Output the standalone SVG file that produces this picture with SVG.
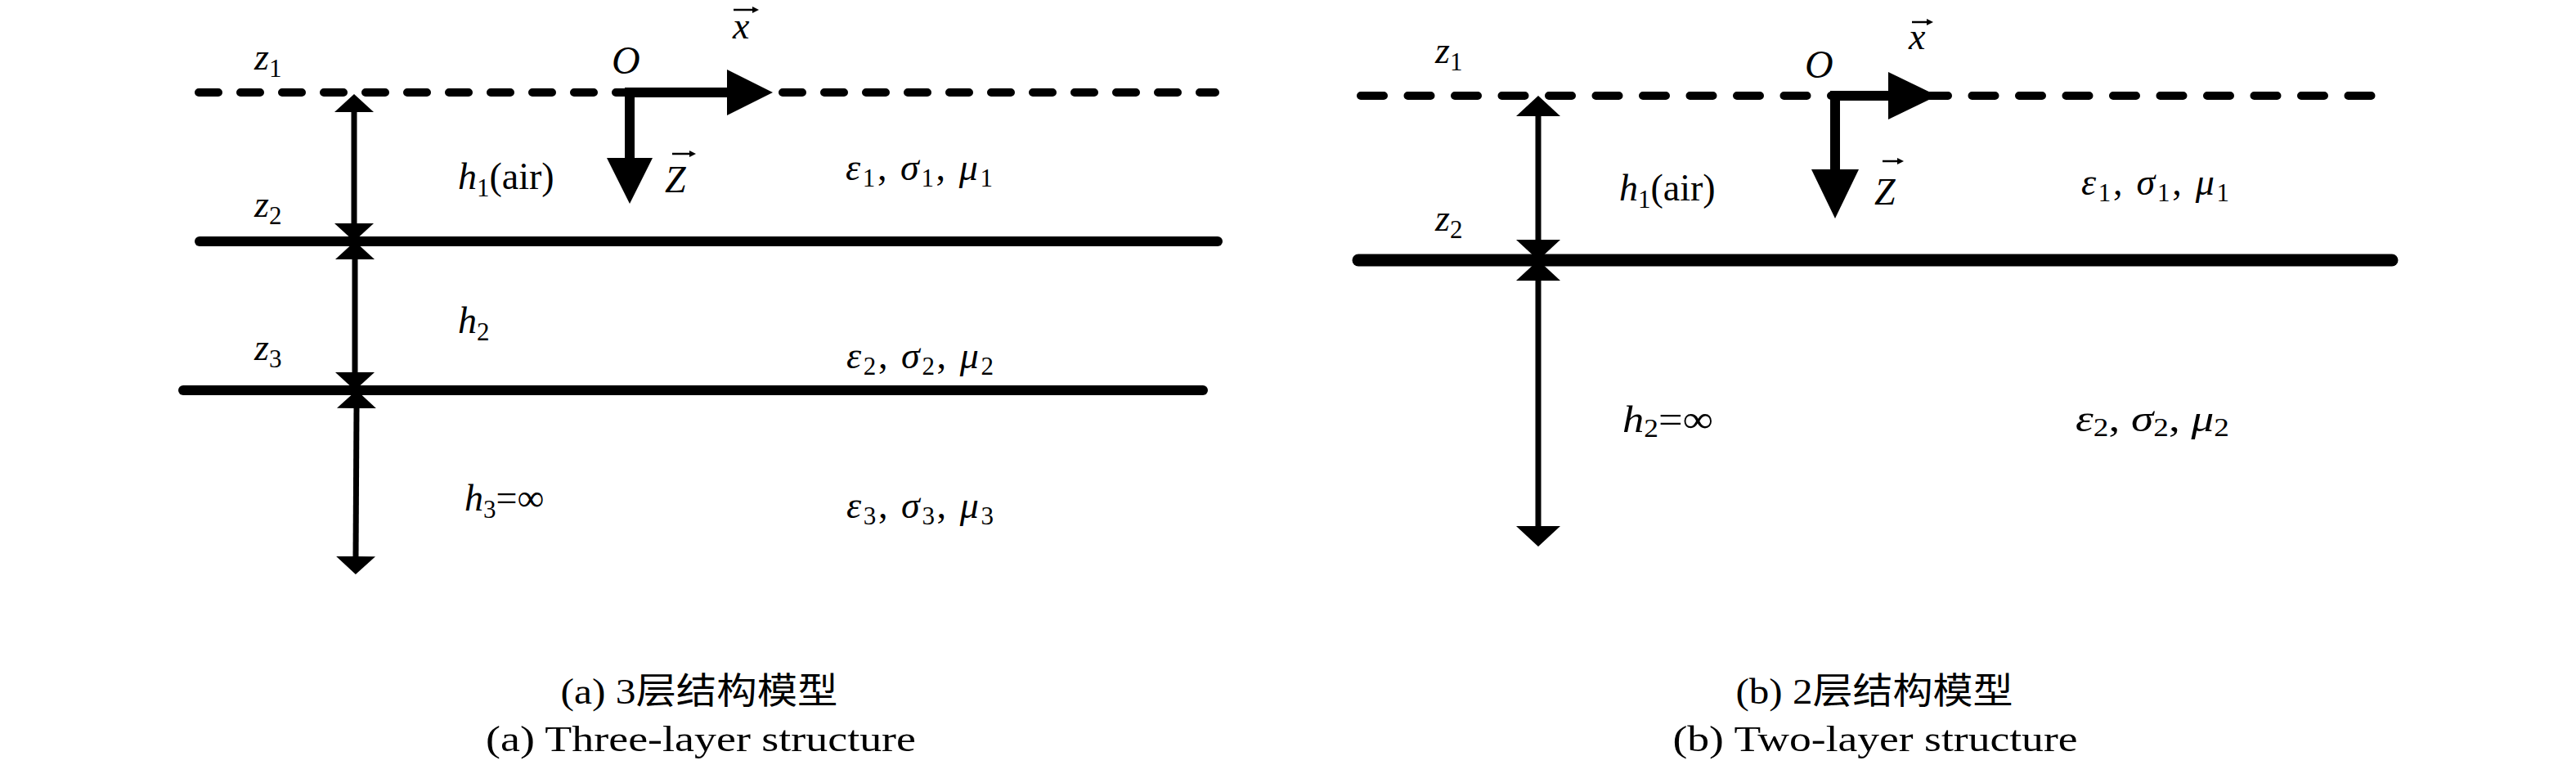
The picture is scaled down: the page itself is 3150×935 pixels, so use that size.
<svg xmlns="http://www.w3.org/2000/svg" width="3150" height="935" viewBox="0 0 3150 935">
<style>
.m { font-family: "Liberation Serif", "DejaVu Serif", serif; font-size: 46px; fill: #000; }
.i { font-style: italic; }
.s { font-size: 31px; }
.big { font-size: 48px; }
.cap { font-family: "Liberation Serif", "Noto Sans CJK SC", serif; font-size: 44px; fill: #000; }
.dash1 { fill: none; stroke: #000; stroke-width: 10; stroke-linecap: round; stroke-dasharray: 24 27; }
.dash2 { fill: none; stroke: #000; stroke-width: 10; stroke-linecap: round; stroke-dasharray: 28 29.5; }
.solid { fill: none; stroke: #000; stroke-width: 12; stroke-linecap: round; }
.solid2 { fill: none; stroke: #000; stroke-width: 15; stroke-linecap: round; }
.dim { fill: none; stroke: #000; stroke-width: 7; }
.axis { fill: none; stroke: #000; stroke-width: 12; stroke-linejoin: miter; }
.vec { fill: none; stroke: #000; stroke-width: 2.5; }
</style>
<defs>
<marker id="dh" markerUnits="userSpaceOnUse" markerWidth="24" markerHeight="50" viewBox="0 -25 24 50" refX="0" refY="0" orient="auto-start-reverse"><path d="M0,-24 L22,0 L0,24 Z" fill="#000"/></marker>
<marker id="dh2" markerUnits="userSpaceOnUse" markerWidth="26" markerHeight="56" viewBox="0 -28 26 56" refX="0" refY="0" orient="auto-start-reverse"><path d="M0,-27 L25,0 L0,27 Z" fill="#000"/></marker>
<marker id="ah" markerUnits="userSpaceOnUse" markerWidth="58" markerHeight="60" viewBox="0 -30 58 60" refX="0" refY="0" orient="auto-start-reverse"><path d="M0,-28 L56,0 L0,28 Z" fill="#000"/></marker>
<marker id="ah2" markerUnits="userSpaceOnUse" markerWidth="62" markerHeight="62" viewBox="0 -31 62 62" refX="0" refY="0" orient="auto-start-reverse"><path d="M0,-29 L60,0 L0,29 Z" fill="#000"/></marker>
<marker id="vh" markerUnits="userSpaceOnUse" markerWidth="10" markerHeight="10" viewBox="0 -5 10 10" refX="0" refY="0" orient="auto"><path d="M0,-4 L8,0 L0,4 Z" fill="#000"/></marker>
</defs>
<rect width="3150" height="935" fill="#fff"/>

<!-- Panel (a) -->
<g id="a-boundary-z1"><line class="dash1" x1="243" y1="113" x2="1486" y2="113"/></g>
<g id="a-boundary-z2"><line class="solid" x1="244" y1="295" x2="1489" y2="295"/></g>
<g id="a-boundary-z3"><line class="solid" x1="224" y1="477" x2="1471" y2="477"/></g>

<g id="a-label-z1"><text class="m" x="311" y="85"><tspan class="i">z</tspan><tspan class="s" dy="9">1</tspan></text></g>
<g id="a-label-z2"><text class="m" x="311" y="265"><tspan class="i">z</tspan><tspan class="s" dy="9">2</tspan></text></g>
<g id="a-label-z3"><text class="m" x="311" y="440"><tspan class="i">z</tspan><tspan class="s" dy="9">3</tspan></text></g>
<g id="a-origin"><text class="m i big" x="748" y="90">O</text></g>
<g id="a-label-x"><text class="m i" x="896" y="47" font-size="44">x</text><line class="vec" x1="897" y1="12" x2="920" y2="12" marker-end="url(#vh)"/></g>
<g id="a-label-Z"><text class="m i" x="813" y="235" font-size="50">Z</text><line class="vec" x1="822" y1="188" x2="843" y2="188" marker-end="url(#vh)"/></g>
<g id="a-layer1">
<text class="m" x="560" y="231"><tspan class="i">h</tspan><tspan class="s" dy="9">1</tspan><tspan dy="-9">(air)</tspan></text>
<text class="m" x="1034" y="220" textLength="180"><tspan class="i">ε</tspan><tspan class="s" dy="8">1</tspan><tspan dy="-8">, </tspan><tspan class="i">σ</tspan><tspan class="s" dy="8">1</tspan><tspan dy="-8">, </tspan><tspan class="i">μ</tspan><tspan class="s" dy="8">1</tspan></text>
</g>
<g id="a-layer2">
<text class="m" x="560" y="407"><tspan class="i">h</tspan><tspan class="s" dy="9">2</tspan></text>
<text class="m" x="1035" y="450" textLength="180"><tspan class="i">ε</tspan><tspan class="s" dy="8">2</tspan><tspan dy="-8">, </tspan><tspan class="i">σ</tspan><tspan class="s" dy="8">2</tspan><tspan dy="-8">, </tspan><tspan class="i">μ</tspan><tspan class="s" dy="8">2</tspan></text>
</g>
<g id="a-layer3">
<text class="m" x="568" y="624"><tspan class="i">h</tspan><tspan class="s" dy="9">3</tspan><tspan dy="-9">=∞</tspan></text>
<text class="m" x="1035" y="633" textLength="180"><tspan class="i">ε</tspan><tspan class="s" dy="8">3</tspan><tspan dy="-8">, </tspan><tspan class="i">σ</tspan><tspan class="s" dy="8">3</tspan><tspan dy="-8">, </tspan><tspan class="i">μ</tspan><tspan class="s" dy="8">3</tspan></text>
</g>
<g id="a-caption">
<text class="cap" x="855" y="860" text-anchor="middle" textLength="339" lengthAdjust="spacingAndGlyphs">(a) 3层结构模型</text>
<text class="cap" x="857" y="918" text-anchor="middle" textLength="526" lengthAdjust="spacingAndGlyphs">(a) Three-layer structure</text>
</g>

<!-- Panel (b) -->
<g id="b-boundary-z1"><line class="dash2" x1="1664" y1="117" x2="2912" y2="117"/></g>
<g id="b-boundary-z2"><line class="solid2" x1="1661" y1="318" x2="2925" y2="318"/></g>

<g id="b-label-z1"><text class="m" x="1755" y="77"><tspan class="i">z</tspan><tspan class="s" dy="9">1</tspan></text></g>
<g id="b-label-z2"><text class="m" x="1755" y="282"><tspan class="i">z</tspan><tspan class="s" dy="9">2</tspan></text></g>
<g id="b-origin"><text class="m i big" x="2207" y="95">O</text></g>
<g id="b-label-x"><text class="m i" x="2334" y="60" font-size="44">x</text><line class="vec" x1="2338" y1="27" x2="2356" y2="27" marker-end="url(#vh)"/></g>
<g id="b-label-Z"><text class="m i" x="2292" y="250" font-size="50">Z</text><line class="vec" x1="2302" y1="197" x2="2320" y2="197" marker-end="url(#vh)"/></g>
<g id="b-layer1">
<text class="m" x="1980" y="245"><tspan class="i">h</tspan><tspan class="s" dy="9">1</tspan><tspan dy="-9">(air)</tspan></text>
<text class="m" x="2545" y="238" textLength="181"><tspan class="i">ε</tspan><tspan class="s" dy="8">1</tspan><tspan dy="-8">, </tspan><tspan class="i">σ</tspan><tspan class="s" dy="8">1</tspan><tspan dy="-8">, </tspan><tspan class="i">μ</tspan><tspan class="s" dy="8">1</tspan></text>
</g>
<g id="b-layer2">
<text class="m" x="1984" y="528" textLength="111" lengthAdjust="spacingAndGlyphs"><tspan class="i">h</tspan><tspan class="s" dy="6">2</tspan><tspan dy="-6">=∞</tspan></text>
<text class="m" x="2538" y="527" textLength="188" lengthAdjust="spacingAndGlyphs"><tspan class="i">ε</tspan><tspan class="s" dy="6">2</tspan><tspan dy="-6">, </tspan><tspan class="i">σ</tspan><tspan class="s" dy="6">2</tspan><tspan dy="-6">, </tspan><tspan class="i">μ</tspan><tspan class="s" dy="6">2</tspan></text>
</g>
<g id="b-caption">
<text class="cap" x="2292" y="860" text-anchor="middle" textLength="339" lengthAdjust="spacingAndGlyphs">(b) 2层结构模型</text>
<text class="cap" x="2293" y="918" text-anchor="middle" textLength="495" lengthAdjust="spacingAndGlyphs">(b) Two-layer structure</text>
</g>

<!-- Connectors -->
<g id="connectors">
<line class="dim" x1="433" y1="137" x2="433" y2="273" marker-start="url(#dh)" marker-end="url(#dh)"/>
<line class="dim" x1="434" y1="317" x2="434" y2="455" marker-start="url(#dh)" marker-end="url(#dh)"/>
<line class="dim" x1="436" y1="499" x2="435" y2="680" marker-start="url(#dh)" marker-end="url(#dh)"/>
<polyline class="axis" points="770,193 770,113 889,113" marker-start="url(#ah)" marker-end="url(#ah)"/>

<line class="dim" x1="1881" y1="142" x2="1881" y2="293" marker-start="url(#dh2)" marker-end="url(#dh2)"/>
<line class="dim" x1="1881" y1="343" x2="1881" y2="643" marker-start="url(#dh2)" marker-end="url(#dh2)"/>
<polyline class="axis" points="2244,207 2244,117 2309,117" marker-start="url(#ah2)" marker-end="url(#ah2)"/>
</g>
</svg>
